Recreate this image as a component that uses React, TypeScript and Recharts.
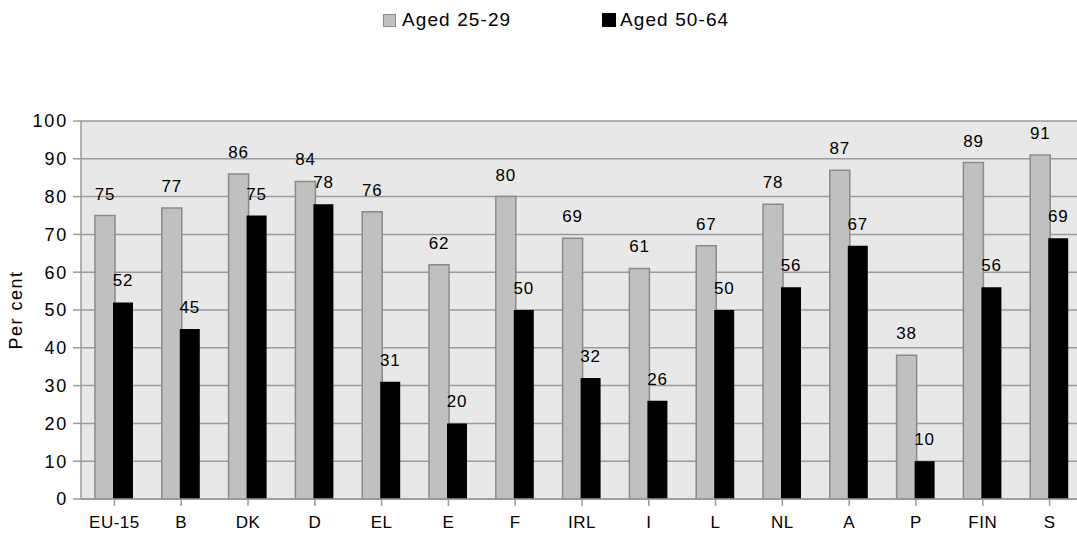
import React from 'react';
import { BarChart, Bar, XAxis, YAxis, CartesianGrid, Legend, LabelList } from 'recharts';

const countries = ['EU-15', 'B', 'DK', 'D', 'EL', 'E', 'F', 'IRL', 'I', 'L', 'NL', 'A', 'P', 'FIN', 'S'];
const aged2529 = [75, 77, 86, 84, 76, 62, 80, 69, 61, 67, 78, 87, 38, 89, 91];
const aged5064 = [52, 45, 75, 78, 31, 20, 50, 32, 26, 50, 56, 67, 10, 56, 69];
const yTicks = [0, 10, 20, 30, 40, 50, 60, 70, 80, 90, 100];

const data = countries.map((c, i) => ({ country: c, young: aged2529[i], old: aged5064[i] }));

const FONT = 'Liberation Sans, Arial, sans-serif';

const LegendContent = () => (
  <div style={{ height: 40, position: 'relative', fontFamily: FONT, fontSize: 19, color: '#000' }}>
    <div style={{ position: 'absolute', left: 383, top: 9, display: 'flex', alignItems: 'center' }}>
      <span style={{ display: 'inline-block', width: 11, height: 11, background: '#c0c0c0', border: '1.5px solid #8a8a8a', marginRight: 6 }} />
      <span style={{ letterSpacing: 1.1 }}>Aged 25-29</span>
    </div>
    <div style={{ position: 'absolute', left: 602, top: 9, display: 'flex', alignItems: 'center' }}>
      <span style={{ display: 'inline-block', width: 14, height: 14, background: '#000', marginRight: 4 }} />
      <span style={{ letterSpacing: 1.1 }}>Aged 50-64</span>
    </div>
  </div>
);

export default function App() {
  return (
    <div style={{ position: 'absolute', left: 0, top: 0, width: 1077, height: 540, overflow: 'hidden', background: '#fff' }}>
      <BarChart
        width={1085}
        height={540}
        data={data}
        margin={{ top: 81, right: 2, bottom: 11, left: 0 }}
        barSize={20}
        barGap={-2}
      >
        <Legend verticalAlign="top" align="left" wrapperStyle={{ top: 0, left: 0, width: 1077 }} content={<LegendContent />} />
        <CartesianGrid vertical={false} stroke="#9a9a9a" strokeWidth={1.5} fill="#e8e8e8" />
        <XAxis
          dataKey="country"
          height={30}
          stroke="#9a9a9a"
          strokeWidth={1.5}
          tickSize={7}
          tickMargin={10}
          tick={{ fill: '#000', fontSize: 17, fontFamily: FONT, letterSpacing: 0.5 }}
          interval={0}
        />
        <YAxis
          width={81}
          domain={[0, 100]}
          ticks={yTicks}
          stroke="#9a9a9a"
          strokeWidth={1.5}
          tickSize={8}
          tickMargin={5}
          tick={{ fill: '#000', fontSize: 18, fontFamily: FONT, letterSpacing: 1.8 }}
          label={{ value: 'Per cent', angle: -90, position: 'insideLeft', offset: 16, fill: '#000', fontSize: 18, fontFamily: FONT, letterSpacing: 1.5, textAnchor: 'middle' }}
        />
        <Bar dataKey="young" name="Aged 25-29" fill="#c0c0c0" stroke="#8a8a8a" strokeWidth={1.5} isAnimationActive={false}>
          <LabelList dataKey="young" position="top" offset={16} fill="#000" fontSize={17} fontFamily={FONT} letterSpacing={0.8} />
        </Bar>
        <Bar dataKey="old" name="Aged 50-64" fill="#000" isAnimationActive={false}>
          <LabelList dataKey="old" position="top" offset={16} fill="#000" fontSize={17} fontFamily={FONT} letterSpacing={0.8} />
        </Bar>
      </BarChart>
    </div>
  );
}
